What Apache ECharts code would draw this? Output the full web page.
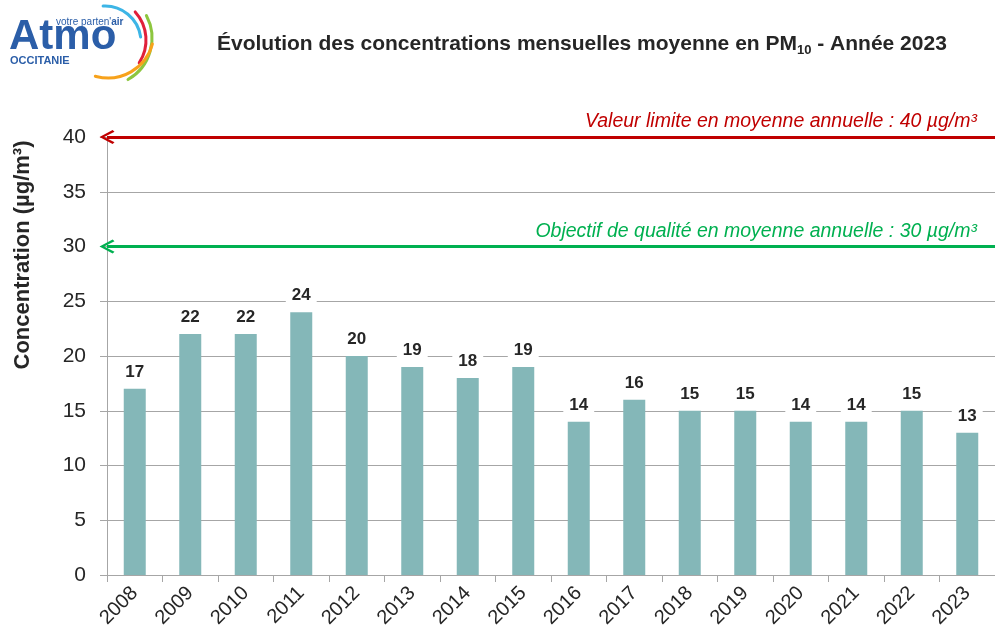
<!DOCTYPE html>
<html>
<head>
<meta charset="utf-8">
<script src="https://cdn.jsdelivr.net/npm/echarts@6/dist/echarts.min.js"></script>
<style>
  html, body { margin: 0; padding: 0; background: #fff; }
  #chart { width: 995px; height: 636px; }
</style>
</head>
<body>
<div id="chart"></div>
<script>
// données PM10 - moyennes annuelles
var years = ["2008", "2009", "2010", "2011", "2012", "2013", "2014", "2015",
             "2016", "2017", "2018", "2019", "2020", "2021", "2022", "2023"];
var pm10 = [17, 22, 22, 24, 20, 19, 18, 19, 14, 16, 15, 15, 14, 14, 15, 13];
var valeurLimite = 40;
var objectifQualite = 30;

var arial = "'Liberation Sans', Arial, sans-serif";
var chevron = "path://M10,0 L20,14 L17.6,16 L10,5 L2.4,16 L0,14 Z";

var myChart = echarts.init(document.getElementById("chart"));
var option = {
  backgroundColor: "#fff",
  animation: false,
  title: {
    left: 212,
    top: 24,
    text: "{t|Évolution des concentrations mensuelles moyenne en PM}{s|10}{t| - Année 2023}",
    textStyle: {
      rich: {
        t: { fontFamily: arial, fontWeight: "bold", fontSize: 21, color: "#262626", lineHeight: 30 },
        s: { fontFamily: arial, fontWeight: "bold", fontSize: 13, color: "#262626", lineHeight: 30, padding: [12, 0, 0, 0] }
      }
    }
  },
  grid: {
    left: 107,
    right: -9,
    top: 137,
    bottom: 61
  },
  xAxis: {
    type: "category",
    data: years,
    axisLine: { show: true, lineStyle: { color: "#a6a6a6", width: 1 } },
    axisTick: { show: true, length: 7, lineStyle: { color: "#a6a6a6" } },
    axisLabel: {
      rotate: 45,
      margin: 15,
      color: "#262626",
      fontFamily: arial,
      fontSize: 20
    }
  },
  yAxis: {
    type: "value",
    min: 0,
    max: 40,
    interval: 5,
    axisLine: { show: true, lineStyle: { color: "#a6a6a6", width: 1 } },
    axisTick: { show: true, length: 7, lineStyle: { color: "#a6a6a6" } },
    splitLine: { show: true, lineStyle: { color: "#a6a6a6", width: 1 } },
    axisLabel: {
      margin: 21,
      color: "#262626",
      fontFamily: arial,
      fontSize: 21
    }
  },
  series: [
    {
      name: "PM10",
      type: "bar",
      data: pm10,
      barWidth: 22,
      itemStyle: { color: "#84b7b8" },
      label: {
        show: true,
        position: "top",
        distance: 7,
        color: "#262626",
        fontFamily: arial,
        fontWeight: "bold",
        fontSize: 17,
        backgroundColor: "#fff",
        padding: [1, 6, 1, 6]
      },
      markLine: {
        silent: true,
        symbol: [chevron, "none"],
        symbolSize: [14, 15],
        data: [
          {
            yAxis: valeurLimite,
            lineStyle: { color: "#c00000", width: 3, type: "solid" },
            label: {
              position: "insideEndTop",
              formatter: "Valeur limite en moyenne annuelle : 40 µg/m³",
              color: "#c00000",
              fontFamily: arial,
              fontStyle: "italic",
              fontSize: 19.5,
              padding: [0, 13, 0, 0]
            }
          },
          {
            yAxis: objectifQualite,
            lineStyle: { color: "#00b050", width: 3, type: "solid" },
            label: {
              position: "insideEndTop",
              formatter: "Objectif de qualité en moyenne annuelle : 30 µg/m³",
              color: "#00b050",
              fontFamily: arial,
              fontStyle: "italic",
              fontSize: 19.5,
              padding: [0, 13, 0, 0]
            }
          }
        ]
      }
    }
  ],
  graphic: [
    {
      type: "text",
      x: 23,
      y: 255,
      rotation: Math.PI / 2,
      style: {
        text: "Concentration (µg/m³)",
        font: "bold 22px " + arial,
        fill: "#262626",
        textAlign: "center",
        textVerticalAlign: "middle"
      }
    },
    // logo Atmo Occitanie
    {
      type: "text",
      x: 9,
      y: 37,
      style: {
        text: "Atmo",
        font: "bold 42px " + arial,
        fill: "#2b5ea8",
        textVerticalAlign: "middle"
      }
    },
    {
      type: "text",
      x: 56,
      y: 22,
      style: {
        text: "votre parten'{b|air}",
        font: "10px " + arial,
        fill: "#2b5ea8",
        textVerticalAlign: "middle",
        rich: { b: { fontWeight: "bold", fontSize: 10, fill: "#2b5ea8" } }
      }
    },
    {
      type: "text",
      x: 10,
      y: 61,
      style: {
        text: "OCCITANIE",
        font: "bold 11px " + arial,
        fill: "#2b5ea8",
        textVerticalAlign: "middle"
      }
    },
    {
      type: "arc",
      shape: { cx: 105, cy: 42, r: 36, startAngle: -93 * Math.PI / 180, endAngle: -8 * Math.PI / 180 },
      style: { stroke: "#3db5e6", lineWidth: 3, fill: null, lineCap: "round" }
    },
    {
      type: "arc",
      shape: { cx: 104, cy: 40, r: 42, startAngle: -42 * Math.PI / 180, endAngle: 33 * Math.PI / 180 },
      style: { stroke: "#e0203a", lineWidth: 3, fill: null, lineCap: "round" }
    },
    {
      type: "arc",
      shape: { cx: 104, cy: 38, r: 48, startAngle: -28 * Math.PI / 180, endAngle: 60 * Math.PI / 180 },
      style: { stroke: "#8dc63f", lineWidth: 3, fill: null, lineCap: "round" }
    },
    {
      type: "arc",
      shape: { cx: 108, cy: 32, r: 46, startAngle: 15 * Math.PI / 180, endAngle: 106 * Math.PI / 180 },
      style: { stroke: "#f7a21b", lineWidth: 3, fill: null, lineCap: "round" }
    }
  ]
};
myChart.setOption(option);
</script>
</body>
</html>
